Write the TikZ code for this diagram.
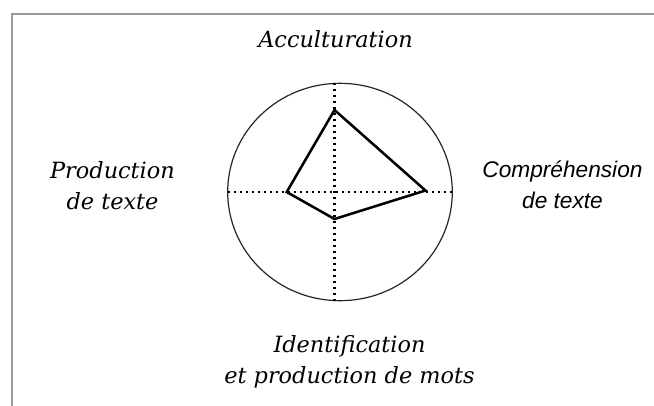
\documentclass[tikz,border=0pt]{standalone}
\usepackage{fontspec}
\setmainfont{DejaVu Serif}
\newfontfamily\arialfont{Liberation Sans}
\usetikzlibrary{positioning}

\begin{document}
\begin{tikzpicture}[x=0.75pt,y=-0.75pt]
		\tikzstyle{every node}+=[inner sep=0pt]
		\tikzstyle{axe}=[black,line width=1.7pt,dash pattern=on 1.5pt off 3pt]
		\tikzstyle{profil}=[black,line width=1.9pt,line join=miter]
		\tikzstyle{etiquette}=[font=\fontsize{16.8}{23.25}\selectfont\itshape,align=center]
		\useasboundingbox (0,0) rectangle (654,405);
		\clip (0,0) rectangle (654,405);
		\draw [gray!80,line width=1.5pt] (12,14) rectangle (700,450);
		\draw [black!85,line width=0.9pt] (340,192) ellipse (112.3 and 108.7);
		\coordinate (haut) at (334.5,83.3);
		\coordinate (bas) at (334.5,300.7);
		\coordinate (gauche) at (227.7,192);
		\coordinate (droite) at (452.3,192);
		\coordinate (A) at (334.5,110);
		\coordinate (C) at (425.5,190.5);
		\coordinate (I) at (334.5,219);
		\coordinate (P) at (286.7,192);
		\draw [axe] (haut) -- (bas);
		\draw [axe] (gauche) -- (droite);
		\draw [profil] (A) -- (C) -- (I) -- (P) -- cycle;
		\node [etiquette,anchor=base] (acc) at (335.5,47) {Acculturation};
		\node [etiquette] (prod) at (112.5,186) {Production\\de texte};
		\node [etiquette,font=\fontsize{17}{23.25}\selectfont\arialfont\itshape] (comp) at (562.5,185) {Compréhension\\de texte};
		\node [etiquette] (ident) at (349.5,362) {Identification\\et production de mots};
\end{tikzpicture}
\end{document}
